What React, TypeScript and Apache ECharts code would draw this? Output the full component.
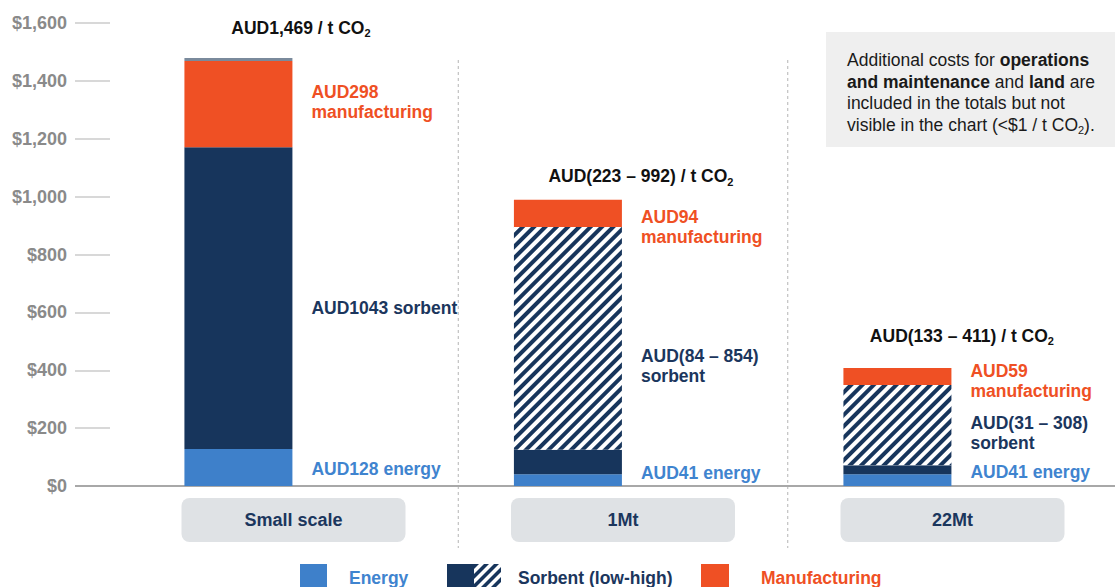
import React, { useEffect, useRef } from "react";
import * as echarts from "echarts";

// Cost build-up per tonne of CO2 captured (AUD / t CO2)
const categories = ["Small scale", "1Mt", "22Mt"];
const energy = [128, 41, 41];
const sorbentLow = [1043, 84, 31];
const sorbentHigh = [1043, 854, 308];
const manufacturing = [298, 94, 59];
// operations, maintenance and land: under $1 / t CO2
const otherCosts = [0.5, 0.5, 0.5];
const totalLow = [1469, 223, 133];
const totalHigh = [1469, 992, 411];
const yTickMax = 1600;
const yTickStep = 200;

const FONT = "'Liberation Sans', Arial, Helvetica, sans-serif";
const C_ENERGY = "#3e80ca";
const C_SORBENT = "#17355c";
const C_MANUF = "#ef5024";
const C_ENERGY_TXT = "#3f84cf";
const C_SORBENT_TXT = "#1b365d";

// label placement (pixels)
const energyDy = [1.5, -7, -8];
const sorbentDy = [10, 27.6, 8];
const manufDy = [-2, 13.6, 4.5];
const totalOffset = [
  [62.5, -14],
  [73, -4.7],
  [64.5, -13],
];

const fmt = (v: number) => v.toLocaleString("en-US");
const sorbentText = (i: number) =>
  sorbentLow[i] === sorbentHigh[i]
    ? `AUD${sorbentLow[i]} sorbent`
    : `AUD(${sorbentLow[i]} – ${sorbentHigh[i]})\nsorbent`;
const totalText = (i: number) =>
  totalLow[i] === totalHigh[i]
    ? `AUD${fmt(totalLow[i])} / t CO`
    : `AUD(${totalLow[i]} – ${totalHigh[i]}) / t CO`;

const labelBase = {
  show: true,
  position: "right" as const,
  distance: 19,
  fontSize: 17.5,
  fontWeight: "bold" as const,
  fontFamily: FONT,
  lineHeight: 20,
  align: "left" as const,
};

const hatch = {
  symbol: "rect",
  symbolSize: 1,
  dashArrayX: [1, 0],
  dashArrayY: [3.5, 3.5],
  rotation: -Math.PI / 4,
  color: C_SORBENT,
};

// diagonal stripes clipped to a square, for the legend swatch
function clipHalf(poly: number[][], f: (p: number[]) => number) {
  const out: number[][] = [];
  for (let i = 0; i < poly.length; i++) {
    const a = poly[i];
    const b = poly[(i + 1) % poly.length];
    const fa = f(a);
    const fb = f(b);
    if (fa >= 0) out.push(a);
    if (fa >= 0 !== fb >= 0) {
      const t = fa / (fa - fb);
      out.push([a[0] + t * (b[0] - a[0]), a[1] + t * (b[1] - a[1])]);
    }
  }
  return out;
}
function stripeSwatch(x0: number, y0: number, s: number, period: number, thick: number) {
  const items: any[] = [{ type: "rect", shape: { x: x0, y: y0, width: s, height: s }, style: { fill: "#fff" } }];
  for (let c = -period; c < 2 * s; c += period) {
    let poly = [
      [0, 0],
      [s, 0],
      [s, s],
      [0, s],
    ];
    poly = clipHalf(poly, (p) => p[0] + p[1] - c);
    poly = clipHalf(poly, (p) => c + thick - (p[0] + p[1]));
    if (poly.length >= 3) {
      items.push({
        type: "polygon",
        shape: { points: poly.map((p) => [x0 + p[0], y0 + p[1]]) },
        style: { fill: C_SORBENT },
      });
    }
  }
  return items;
}

export default function App() {
  const ref = useRef<HTMLDivElement>(null);

  useEffect(() => {
    if (!ref.current) return;
    const chart = echarts.init(ref.current, null, { renderer: "svg" });

    const common = { type: "bar", barWidth: 108, barGap: "2%" };

    chart.setOption({
      animation: false,
      grid: { left: 128.75, right: -2.25, top: 23, bottom: 101, outerBoundsMode: "none" },
      xAxis: {
        type: "category",
        data: categories,
        axisLine: { show: false },
        axisTick: { show: false },
        splitLine: { show: false },
        axisLabel: {
          margin: 12,
          width: 224,
          height: 44,
          lineHeight: 44,
          align: "center",
          backgroundColor: "#dfe2e5",
          borderRadius: 8,
          color: "#1b365d",
          fontWeight: "bold",
          fontSize: 18,
          fontFamily: FONT,
        },
      },
      yAxis: {
        type: "value",
        min: 0,
        max: yTickMax,
        interval: yTickStep,
        offset: 18.75,
        axisLine: { show: false },
        axisTick: { show: true, length: 35, lineStyle: { color: "#cbcbcb", width: 1.5 } },
        splitLine: { show: false },
        axisLabel: {
          margin: 43,
          formatter: (v: number) => "$" + fmt(v),
          color: "#8a8a8a",
          fontWeight: "bold",
          fontSize: 18,
          fontFamily: FONT,
        },
      },
      series: [
        {
          ...common,
          name: "Energy",
          stack: "cost",
          itemStyle: { color: C_ENERGY },
          label: { ...labelBase, color: C_ENERGY_TXT, formatter: (p: any) => `AUD${energy[p.dataIndex]} energy` },
          data: energy.map((v, i) => ({ value: v, label: { offset: [0, energyDy[i]] } })),
        },
        {
          ...common,
          name: "Sorbent (low)",
          stack: "cost",
          itemStyle: { color: C_SORBENT },
          label: { ...labelBase, color: C_SORBENT_TXT, formatter: (p: any) => sorbentText(p.dataIndex) },
          data: sorbentLow.map((v, i) => ({
            value: v,
            label: { show: sorbentLow[i] === sorbentHigh[i], offset: [0, sorbentDy[i]] },
          })),
        },
        {
          ...common,
          name: "Sorbent (high)",
          stack: "cost",
          itemStyle: { color: "#ffffff", decal: hatch },
          label: { ...labelBase, color: C_SORBENT_TXT, formatter: (p: any) => sorbentText(p.dataIndex) },
          data: sorbentHigh.map((v, i) => ({
            value: v - sorbentLow[i],
            label: { show: sorbentLow[i] !== sorbentHigh[i], offset: [0, sorbentDy[i]] },
          })),
        },
        {
          ...common,
          name: "Manufacturing",
          stack: "cost",
          itemStyle: { color: C_MANUF },
          label: {
            ...labelBase,
            color: C_MANUF,
            formatter: (p: any) => `AUD${manufacturing[p.dataIndex]}\nmanufacturing`,
          },
          data: manufacturing.map((v, i) => ({ value: v, label: { offset: [0, manufDy[i]] } })),
        },
        {
          ...common,
          name: "Operations, maintenance and land",
          stack: "cost",
          barMinHeight: 3,
          label: {
            show: true,
            position: "top",
            distance: 5,
            formatter: (p: any) => `{b|${totalText(p.dataIndex)}}{s|2}`,
            rich: {
              b: { fontSize: 17.5, fontWeight: "bold", color: "#111", lineHeight: 22, fontFamily: FONT },
              s: {
                fontSize: 11,
                fontWeight: "bold",
                color: "#111",
                lineHeight: 12,
                verticalAlign: "bottom",
                fontFamily: FONT,
              },
            },
          },
          data: otherCosts.map((v, i) => ({
            value: v,
            itemStyle: { color: i === 0 ? "#7a8a9c" : "rgba(0,0,0,0)" },
            label: { offset: totalOffset[i] },
          })),
        },
        {
          // empty column that keeps each stack on the left of its category
          ...common,
          name: "spacer",
          silent: true,
          data: categories.map(() => "-"),
        },
      ],
    });

    const y0 = chart.convertToPixel({ yAxisIndex: 0 }, 0) as number;
    const xs = categories.map((_, i) => chart.convertToPixel({ xAxisIndex: 0 }, i) as number);
    const dividers = [0, 1].map((i) => (xs[i] + xs[i + 1]) / 2);

    const legendText = (x: number, text: string, color: string) => ({
      type: "text",
      x,
      y: 577.5,
      style: {
        text,
        fill: color,
        font: `bold 17.5px ${FONT}`,
        verticalAlign: "middle",
        align: "left",
      },
    });

    chart.setOption({
      graphic: [
        ...dividers.map((x) => ({
          type: "line",
          shape: { x1: x, y1: 60, x2: x, y2: 548 },
          style: { stroke: "#b4b4b4", lineWidth: 1, lineDash: [3, 3] },
          z: 0,
        })),
        {
          type: "line",
          shape: { x1: 75, y1: y0, x2: 1115, y2: y0 },
          style: { stroke: "#a8a8a8", lineWidth: 2 },
          z: 1,
        },
        {
          type: "rect",
          shape: { x: 826, y: 32, width: 300, height: 115 },
          style: { fill: "#efefef" },
        },
        {
          type: "text",
          x: 847,
          y: 49.25,
          style: {
            text:
              "Additional costs for {b|operations}\n{b|and maintenance} and {b|land} are\nincluded in the totals but not\nvisible in the chart (<$1 / t CO{s|2}).",
            fill: "#1a1a1a",
            fontSize: 17.5,
            fontFamily: FONT,
            lineHeight: 21.5,
            verticalAlign: "top",
            rich: {
              b: { fontSize: 17.5, fontWeight: "bold", fill: "#1a1a1a", fontFamily: FONT, lineHeight: 21.5 },
              s: { fontSize: 11, fill: "#1a1a1a", fontFamily: FONT, lineHeight: 12, verticalAlign: "bottom" },
            },
          },
        },
        // legend
        { type: "rect", shape: { x: 300, y: 564, width: 27, height: 27 }, style: { fill: C_ENERGY } },
        legendText(349, "Energy", C_ENERGY_TXT),
        { type: "rect", shape: { x: 447, y: 564, width: 27, height: 27 }, style: { fill: C_SORBENT } },
        ...stripeSwatch(474, 564, 27, 10, 5),
        legendText(518, "Sorbent (low-high)", C_SORBENT_TXT),
        { type: "rect", shape: { x: 701, y: 564, width: 28, height: 27 }, style: { fill: C_MANUF } },
        legendText(761, "Manufacturing", C_MANUF),
      ],
    });

    return () => chart.dispose();
  }, []);

  return (
    <div
      ref={ref}
      style={{ position: "fixed", left: 0, top: 0, width: 1115, height: 587, background: "#fff" }}
    />
  );
}
